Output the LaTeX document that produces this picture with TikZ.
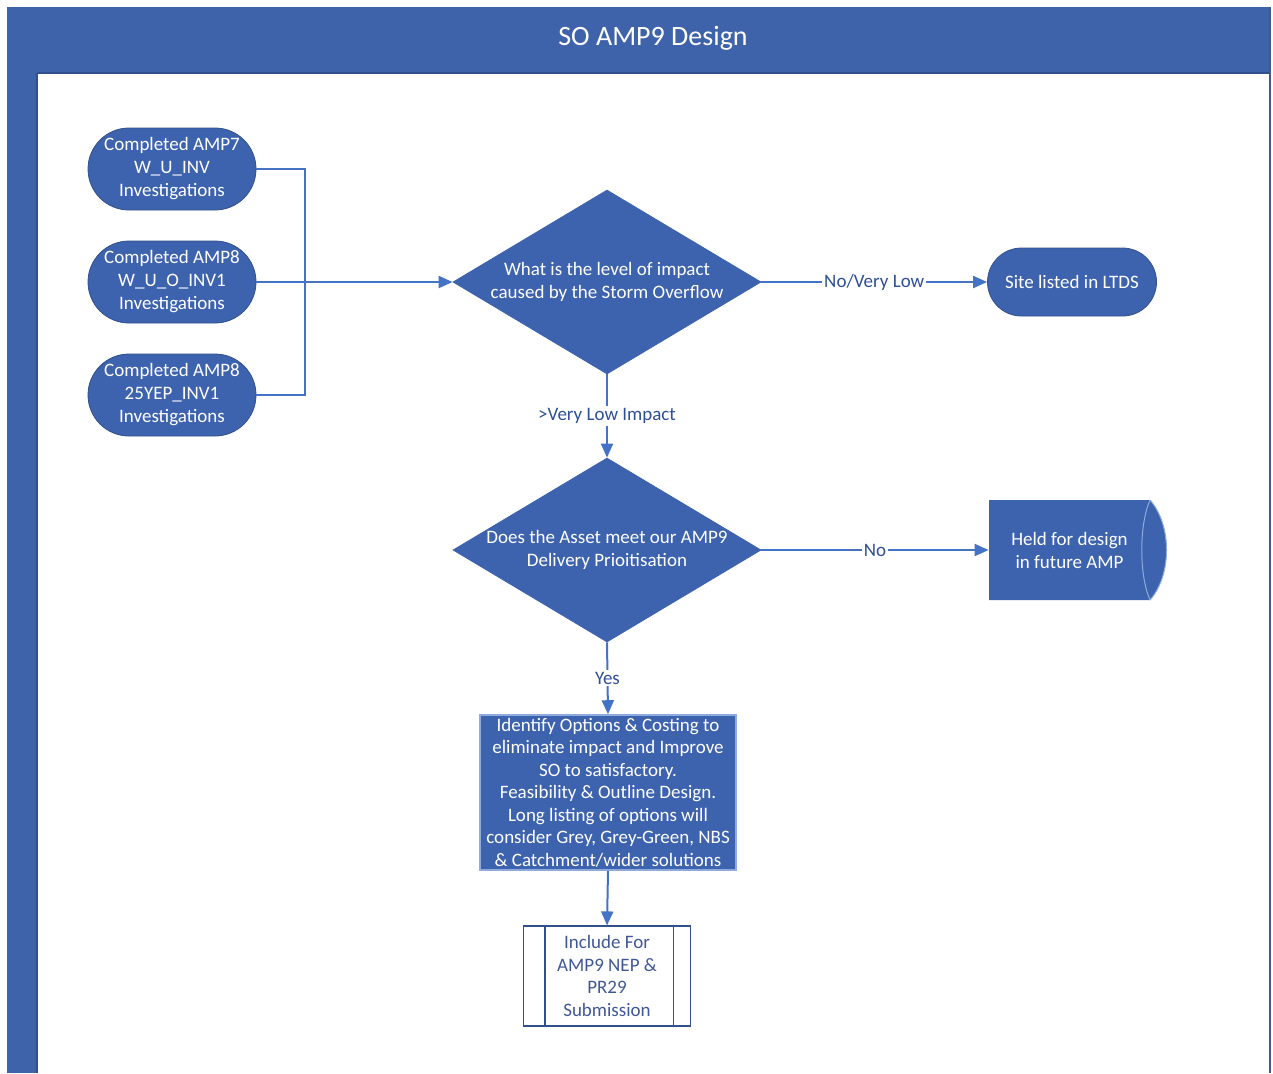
\documentclass[tikz,border=0pt]{standalone}
\usepackage{fontspec}
\setmainfont{Carlito}
\usetikzlibrary{shapes.geometric,arrows.meta}
\definecolor{hdr}{RGB}{62,99,171}
\definecolor{shp}{RGB}{61,99,174}
\definecolor{ln}{RGB}{68,114,196}
\definecolor{lbl}{RGB}{47,80,150}
\definecolor{edgec}{RGB}{50,80,140}
\definecolor{lightedge}{RGB}{143,170,220}
\definecolor{subtxt}{RGB}{64,88,150}
\tikzset{
  base/.style={font=\fontsize{9.5}{11.5}\selectfont, align=center, inner sep=0pt},
  stadium/.style={base, rectangle, fill=shp, draw=edgec, line width=0.4pt, text=white},
  decision/.style={base, diamond, aspect=1.67, fill=shp, draw=shp, text=white, minimum width=154pt, minimum height=92pt},
  procbox/.style={base, rectangle, fill=shp, draw=lightedge, line width=0.8pt, text=white, minimum width=128pt, minimum height=77.5pt, font=\fontsize{9.5}{11.25}\selectfont},
  subbox/.style={base, rectangle, fill=white, draw=edgec, line width=0.6pt, text=subtxt, minimum width=83.5pt, minimum height=50pt, font=\fontsize{9.5}{11.35}\selectfont},
  conn/.style={draw=ln, line width=1pt},
  arr/.style={conn, -{Triangle[length=7pt,width=6pt]}},
  lab/.style={base, fill=white, text=lbl, inner sep=1pt}
}
\begin{document}
\begin{tikzpicture}[x=0.5pt,y=-0.5pt]
\useasboundingbox (0,0) rectangle (1273,1073);
\fill[white] (0,0) rectangle (1273,1073);
% frame
\fill[hdr] (7,7) rectangle (1271,73);
\fill[hdr] (7,7) rectangle (37,1073);
\draw[edgec, line width=0.6pt] (37,73) -- (37,1073);
\draw[edgec, line width=0.6pt] (37,73) -- (1271,73);
\draw[edgec!80!gray, line width=0.8pt] (1270,7) -- (1270,1073);
\node[text=white, font=\fontsize{14}{16}\selectfont, inner sep=0pt] (title) at (653,38) {SO AMP9 Design};

% start nodes
\node[stadium, minimum width=84pt, minimum height=41pt, rounded corners=20.5pt] (inv1) at (172,169) {Completed AMP7\\W\_U\_INV\\Investigations};
\node[stadium, minimum width=84pt, minimum height=41pt, rounded corners=20.5pt] (inv2) at (172,282) {Completed AMP8\\W\_U\_O\_INV1\\Investigations};
\node[stadium, minimum width=84pt, minimum height=41pt, rounded corners=20.5pt] (inv3) at (172,395) {Completed AMP8\\25YEP\_INV1\\Investigations};

% decisions
\node[decision] (d1) at (607,282) {What is the level of impact\\caused by the Storm Overflow};
\node[decision] (d2) at (607,550) {Does the Asset meet our AMP9\\Delivery Prioitisation};

% terminal
\node[stadium, minimum width=84.5pt, minimum height=34pt, rounded corners=17pt] (ltds) at (1072,282) {Site listed in LTDS};

% held (direct data shape)
\fill[shp] (989,500) -- (1150,500) .. controls (1172,525) and (1172,575) .. (1150,600) -- (989,600) -- cycle;
\draw[lightedge, line width=0.5pt] (1150,500) .. controls (1172,525) and (1172,575) .. (1150,600);
\draw[lightedge, line width=0.5pt] (1150,500) .. controls (1139,525) and (1139,575) .. (1150,600);
\node[base, text=white, minimum width=80.5pt, minimum height=50pt] (held) at (1069.5,550) {Held for design\\in future AMP};

% process
\node[procbox] (proc) at (608,792.5) {Identify Options \& Costing to\\eliminate impact and Improve\\SO to satisfactory.\\Feasibility \& Outline Design.\\Long listing of options will\\consider Grey, Grey-Green, NBS\\\& Catchment/wider solutions};

% predefined process
\node[subbox] (sub) at (607,976) {Include For\\AMP9 NEP \&\\PR29\\Submission};
\draw[edgec, line width=0.6pt] ([xshift=11pt]sub.north west) -- ([xshift=11pt]sub.south west);
\draw[edgec, line width=0.6pt] ([xshift=-9pt]sub.north east) -- ([xshift=-9pt]sub.south east);

% connectors
\coordinate (j) at (305,282);
\draw[conn] (inv1.east) -| (j);
\draw[conn] (inv3.east) -| (j);
\draw[arr] (inv2.east) -- (d1.west);
\draw[arr] (d1.east) -- node[lab] (l1) {No/Very Low} (ltds.west);
\draw[arr] (d1.south) -- node[lab] (l2) {>Very Low Impact} (d2.north);
\draw[arr] (d2.east) -- node[lab] (l3) {No} (held.west);
\draw[arr] (d2.south) -- node[lab] (l4) {Yes} (proc.north);
\draw[arr] (proc.south) -- (sub.north);
\end{tikzpicture}
\end{document}
